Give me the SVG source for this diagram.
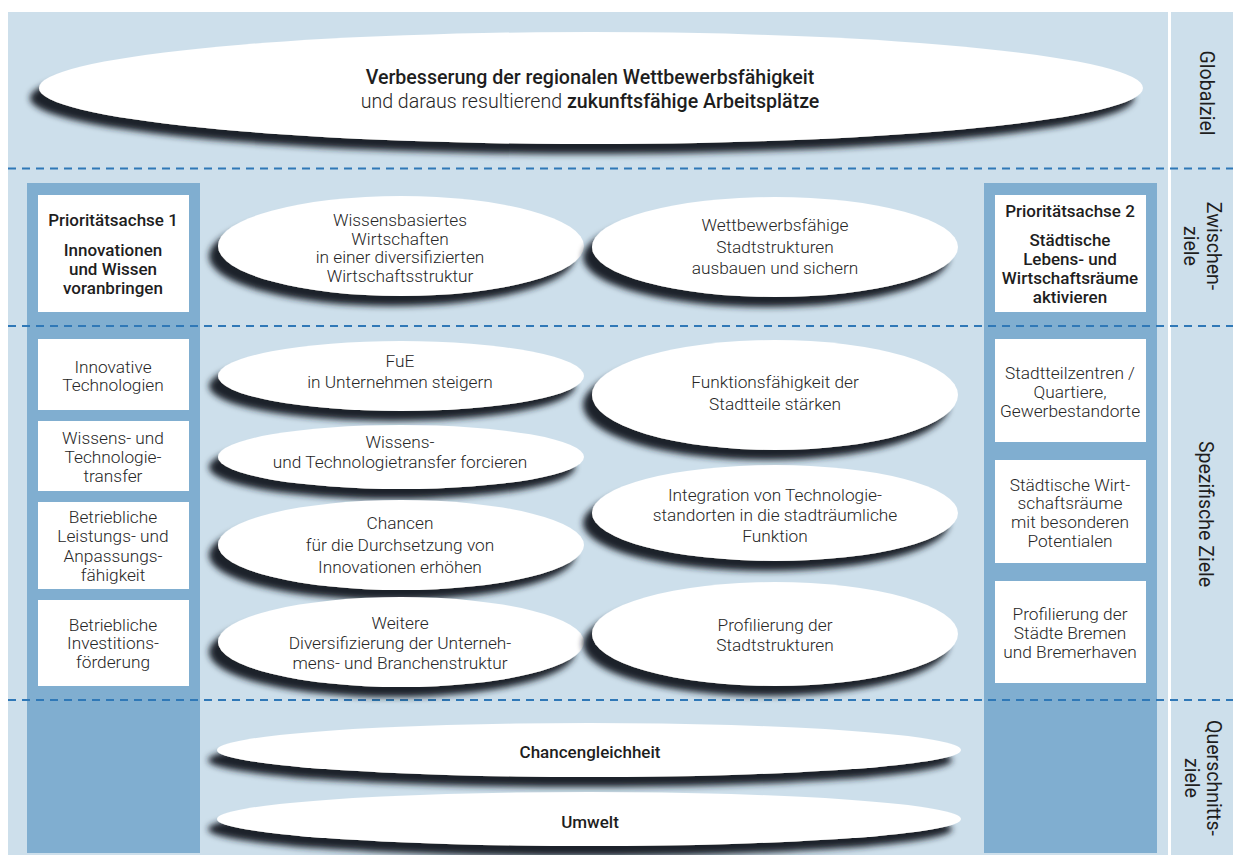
<svg xmlns="http://www.w3.org/2000/svg" width="1233" height="855" viewBox="0 0 1233 855">
<style>
.bg{fill:#cddfeb}
.col{fill:#80aed0}
.box{fill:#ffffff}
.dash{stroke:#2f78b7;stroke-width:2;stroke-dasharray:8 6;fill:none}
.el{fill:#ffffff;filter:url(#sh)}
.t{font-family:Roboto,"Liberation Sans",sans-serif;font-size:17.3px;font-weight:300;fill:#262626;text-anchor:middle}
.b{font-weight:500;fill:#1e1e1e}
.h{font-size:17px}
.big{font-size:19.6px}
.lab{font-family:Roboto,"Liberation Sans",sans-serif;font-size:19.5px;font-weight:400;fill:#1e1e1e;text-anchor:middle;dominant-baseline:central}
</style>
<defs>
<filter id="sh" x="-10%" y="-40%" width="120%" height="200%">
<feDropShadow dx="-9" dy="10" stdDeviation="3" flood-color="#1f242a" flood-opacity="1"/>
</filter>
</defs>
<g id="background">
<rect class="bg" x="8" y="12" width="1160" height="843"/>
<rect class="bg" x="1171" y="12" width="62" height="843"/>
<rect class="col" x="27" y="183" width="173" height="670"/>
<rect class="col" x="984" y="183" width="173" height="670"/>
</g>
<g id="connectors">
<line class="dash" x1="8" y1="168.5" x2="1233" y2="168.5"/>
<line class="dash" x1="8" y1="326" x2="1233" y2="326"/>
<line class="dash" x1="8" y1="700" x2="1233" y2="700"/>
</g>
<g id="globalziel">
<ellipse class="el" cx="591" cy="88" rx="552" ry="56"/>
<text class="t b big" x="590" y="84">Verbesserung der regionalen Wettbewerbsfähigkeit</text>
<text class="t big" x="590" y="108">und daraus resultierend <tspan class="b">zukunftsfähige Arbeitsplätze</tspan></text>
</g>
<g id="pa1">
<rect class="box" x="38" y="195" width="151" height="117"/>
<text class="t b h" x="113" y="226">Prioritätsachse 1</text>
<text class="t b h" x="113" y="256">Innovationen</text>
<text class="t b h" x="113" y="275">und Wissen</text>
<text class="t b h" x="113" y="294">voranbringen</text>
</g>
<g id="pa2">
<rect class="box" x="995" y="195" width="151" height="117"/>
<text class="t b h" x="1070" y="217">Prioritätsachse 2</text>
<text class="t b h" x="1070" y="246">Städtische</text>
<text class="t b h" x="1070" y="265">Lebens- und</text>
<text class="t b h" x="1070" y="284">Wirtschaftsräume</text>
<text class="t b h" x="1070" y="303">aktivieren</text>
</g>
<g id="z1">
<ellipse class="el" cx="401" cy="246" rx="183" ry="50"/>
<text class="t" x="400" y="226">Wissensbasiertes</text>
<text class="t" x="400" y="245">Wirtschaften</text>
<text class="t" x="400" y="263">in einer diversifizierten</text>
<text class="t" x="400" y="282">Wirtschaftsstruktur</text>
</g>
<g id="z2">
<ellipse class="el" cx="775" cy="247" rx="183" ry="50"/>
<text class="t" x="775" y="231">Wettbewerbsfähige</text>
<text class="t" x="775" y="253">Stadtstrukturen</text>
<text class="t" x="775" y="274">ausbauen und sichern</text>
</g>
<g id="s1">
<rect class="box" x="38" y="339" width="151" height="71"/>
<text class="t" x="113" y="373">Innovative</text>
<text class="t" x="113" y="391">Technologien</text>
</g>
<g id="s2">
<rect class="box" x="38" y="421" width="151" height="70"/>
<text class="t" x="113" y="444">Wissens- und</text>
<text class="t" x="113" y="463">Technologie-</text>
<text class="t" x="113" y="482">transfer</text>
</g>
<g id="s3">
<rect class="box" x="38" y="502" width="151" height="87"/>
<text class="t" x="113" y="523">Betriebliche</text>
<text class="t" x="113" y="542">Leistungs- und</text>
<text class="t" x="113" y="562">Anpassungs-</text>
<text class="t" x="113" y="581">fähigkeit</text>
</g>
<g id="s4">
<rect class="box" x="38" y="600" width="151" height="86"/>
<text class="t" x="113" y="631">Betriebliche</text>
<text class="t" x="113" y="649">Investitions-</text>
<text class="t" x="113" y="668">förderung</text>
</g>
<g id="r1">
<rect class="box" x="995" y="339" width="151" height="103"/>
<text class="t" x="1070" y="379">Stadtteilzentren /</text>
<text class="t" x="1070" y="398">Quartiere,</text>
<text class="t" x="1070" y="417">Gewerbestandorte</text>
</g>
<g id="r2">
<rect class="box" x="995" y="460" width="151" height="103"/>
<text class="t" x="1070" y="491">Städtische Wirt-</text>
<text class="t" x="1070" y="509">schaftsräume</text>
<text class="t" x="1070" y="528">mit besonderen</text>
<text class="t" x="1070" y="547">Potentialen</text>
</g>
<g id="r3">
<rect class="box" x="995" y="581" width="151" height="102"/>
<text class="t" x="1070" y="620">Profilierung der</text>
<text class="t" x="1070" y="639">Städte Bremen</text>
<text class="t" x="1070" y="658">und Bremerhaven</text>
</g>
<g id="e1">
<ellipse class="el" cx="401" cy="376" rx="183" ry="35"/>
<text class="t" x="400" y="367">FuE</text>
<text class="t" x="400" y="388">in Unternehmen steigern</text>
</g>
<g id="e2">
<ellipse class="el" cx="401" cy="457" rx="183" ry="32"/>
<text class="t" x="400" y="448">Wissens-</text>
<text class="t" x="400" y="468">und Technologietransfer forcieren</text>
</g>
<g id="e3">
<ellipse class="el" cx="401" cy="545" rx="183" ry="45"/>
<text class="t" x="400" y="529">Chancen</text>
<text class="t" x="400" y="551">für die Durchsetzung von</text>
<text class="t" x="400" y="573">Innovationen erhöhen</text>
</g>
<g id="e4">
<ellipse class="el" cx="401" cy="642" rx="183" ry="45"/>
<text class="t" x="400" y="629">Weitere</text>
<text class="t" x="400" y="649">Diversifizierung der Unterneh-</text>
<text class="t" x="400" y="669">mens- und Branchenstruktur</text>
</g>
<g id="f1">
<ellipse class="el" cx="775" cy="395" rx="183" ry="55"/>
<text class="t" x="775" y="388">Funktionsfähigkeit der</text>
<text class="t" x="775" y="410">Stadtteile stärken</text>
</g>
<g id="f2">
<ellipse class="el" cx="775" cy="513" rx="183" ry="48"/>
<text class="t" x="775" y="501">Integration von Technologie-</text>
<text class="t" x="775" y="521">standorten in die stadträumliche</text>
<text class="t" x="775" y="542">Funktion</text>
</g>
<g id="f3">
<ellipse class="el" cx="775" cy="634" rx="183" ry="52"/>
<text class="t" x="775" y="631">Profilierung der</text>
<text class="t" x="775" y="651">Stadtstrukturen</text>
</g>
<g id="q1">
<ellipse class="el" cx="589" cy="750" rx="372" ry="27"/>
<text class="t b h" x="590" y="758">Chancengleichheit</text>
</g>
<g id="q2">
<ellipse class="el" cx="589" cy="819" rx="372" ry="27"/>
<text class="t b h" x="590" y="828">Umwelt</text>
</g>
<g id="labels">
<text class="lab" transform="translate(1206,93) rotate(90)">Globalziel</text>
<text class="lab" transform="translate(1213,246) rotate(90)">Zwischen-</text>
<text class="lab" transform="translate(1190,246) rotate(90)">ziele</text>
<text class="lab" transform="translate(1205,514) rotate(90)">Spezifische Ziele</text>
<text class="lab" transform="translate(1213,778) rotate(90)">Querschnitts-</text>
<text class="lab" transform="translate(1191,778) rotate(90)">ziele</text>
</g>
</svg>
